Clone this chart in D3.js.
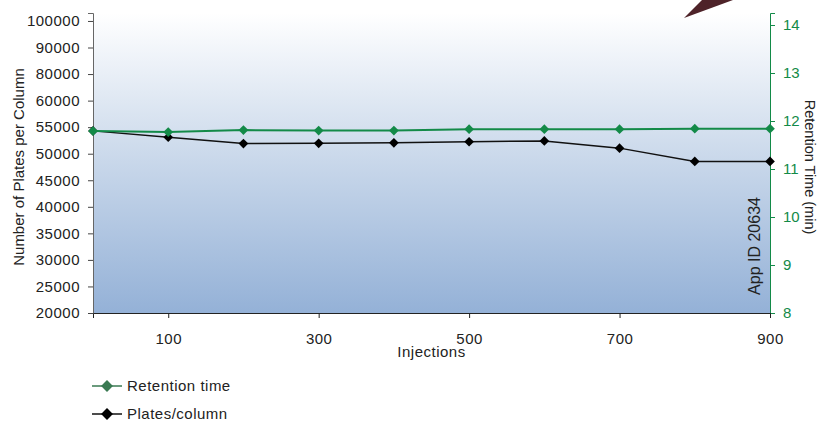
<!DOCTYPE html>
<html>
<head>
<meta charset="utf-8">
<script src="https://cdn.jsdelivr.net/npm/d3@7"></script>
<style>
  body { margin: 0; background: #fff; }
  text { font-family: "Liberation Sans", Arial, sans-serif; }
</style>
</head>
<body>
<svg id="chart"></svg>
<script>
const injections = [0, 100, 200, 300, 400, 500, 600, 700, 800, 900];
const plates = [54300, 53100, 51900, 51950, 52050, 52250, 52400, 51050, 48550, 48550];
const retention = [11.79, 11.77, 11.81, 11.80, 11.80, 11.83, 11.83, 11.83, 11.84, 11.84];

const xTicks = [100, 300, 500, 700, 900];
// left axis ticks sit every 5000 but the top three carry odd labels
const leftTickValues = [20000, 25000, 30000, 35000, 40000, 45000, 50000, 55000, 60000, 65000, 70000, 75000];
const leftTickLabels = ["20000", "25000", "30000", "35000", "40000", "45000", "50000", "55000", "60000", "80000", "90000", "100000"];
const rightTicks = [8, 9, 10, 11, 12, 13, 14];

const width = 822, height = 426;
const m = { left: 93, right: 770, top: 13, bottom: 313 };

const svg = d3.select("#chart").attr("width", width).attr("height", height);

const x = d3.scaleLinear().domain([0, 900]).range([m.left, m.right]);
const yL = d3.scaleLinear().domain([20000, 76500]).range([m.bottom, m.top]);
const yR = d3.scaleLinear().domain([8, 14.25]).range([m.bottom, m.top]);

// background gradient
const grad = svg.append("defs").append("linearGradient")
  .attr("id", "bg").attr("x1", 0).attr("y1", 0).attr("x2", 0).attr("y2", 1);
grad.append("stop").attr("offset", "0%").attr("stop-color", "#ffffff");
grad.append("stop").attr("offset", "50%").attr("stop-color", "#c8d7ea");
grad.append("stop").attr("offset", "100%").attr("stop-color", "#94b1d7");

svg.append("rect")
  .attr("x", m.left).attr("y", m.top)
  .attr("width", m.right - m.left).attr("height", m.bottom - m.top)
  .attr("fill", "url(#bg)");

// decorative arrow at the top
svg.append("polygon")
  .attr("points", "684,18 702,0 733,0")
  .attr("fill", "#4e2329");

const fs = 15, ls = "0.5px";

// left axis
const leftAxis = svg.append("g")
  .attr("transform", `translate(${m.left},0)`)
  .call(d3.axisLeft(yL).tickValues(leftTickValues)
    .tickFormat((d, i) => leftTickLabels[i]).tickSize(5).tickPadding(8));
leftAxis.select(".domain").attr("stroke", "#666");
leftAxis.selectAll(".tick line").attr("stroke", "#444");
leftAxis.selectAll("text").attr("font-size", fs).attr("letter-spacing", ls).attr("fill", "#222");

// right axis
const green = "#138a48";
const rightAxis = svg.append("g")
  .attr("transform", `translate(${m.right},0)`)
  .call(d3.axisRight(yR).tickValues(rightTicks).tickFormat(d3.format("d")).tickSize(5).tickPadding(8));
rightAxis.select(".domain").attr("stroke", green);
rightAxis.selectAll(".tick line").attr("stroke", green);
rightAxis.selectAll("text").attr("font-size", 15).attr("fill", green);

// bottom axis
const bottomAxis = svg.append("g")
  .attr("transform", `translate(0,${m.bottom})`)
  .call(d3.axisBottom(x).tickValues(xTicks).tickSize(5).tickPadding(15));
bottomAxis.select(".domain").attr("stroke", "#222");
bottomAxis.selectAll(".tick line").attr("stroke", "#222");
bottomAxis.selectAll("text").attr("font-size", fs).attr("letter-spacing", ls).attr("fill", "#222");

// axis titles
svg.append("text")
  .attr("transform", `translate(24,${(m.top + m.bottom) / 2 + 4}) rotate(-90)`)
  .attr("text-anchor", "middle").attr("font-size", fs).attr("fill", "#222")
  .text("Number of Plates per Column");

svg.append("text")
  .attr("transform", `translate(805,${(m.top + m.bottom) / 2 + 4}) rotate(90)`)
  .attr("text-anchor", "middle").attr("font-size", 14.5).attr("fill", "#222")
  .text("Retention Time (min)");

svg.append("text")
  .attr("x", (m.left + m.right) / 2).attr("y", 357)
  .attr("text-anchor", "middle").attr("font-size", fs).attr("letter-spacing", ls).attr("fill", "#222")
  .text("Injections");

svg.append("text")
  .attr("transform", `translate(760,246) rotate(-90)`)
  .attr("text-anchor", "middle").attr("font-size", 16).attr("fill", "#222")
  .text("App ID 20634");

// series
const diamond = d3.symbol().type(d3.symbolDiamond2).size(60);

const plateLine = d3.line().x((d, i) => x(injections[i])).y(d => yL(d));
svg.append("path").datum(plates)
  .attr("d", plateLine).attr("fill", "none")
  .attr("stroke", "#111").attr("stroke-width", 1.5);
svg.append("g").selectAll("path").data(plates).join("path")
  .attr("d", diamond)
  .attr("transform", (d, i) => `translate(${x(injections[i])},${yL(d)})`)
  .attr("fill", "#000");

const rtLine = d3.line().x((d, i) => x(injections[i])).y(d => yR(d));
svg.append("path").datum(retention)
  .attr("d", rtLine).attr("fill", "none")
  .attr("stroke", green).attr("stroke-width", 2);
svg.append("g").selectAll("path").data(retention).join("path")
  .attr("d", diamond)
  .attr("transform", (d, i) => `translate(${x(injections[i])},${yR(d)})`)
  .attr("fill", green);

// legend
const legend = [
  { label: "Retention time", line: "#3a7a52", mark: "#3a7a52", y: 386 },
  { label: "Plates/column", line: "#111", mark: "#000", y: 414 }
];
const lg = svg.append("g").selectAll("g").data(legend).join("g")
  .attr("transform", d => `translate(0,${d.y})`);
lg.append("line")
  .attr("x1", 92).attr("x2", 122)
  .attr("stroke", d => d.line).attr("stroke-width", 1.5);
lg.append("path")
  .attr("d", d3.symbol().type(d3.symbolDiamond2).size(90))
  .attr("transform", "translate(107,0)")
  .attr("fill", d => d.mark);
lg.append("text")
  .attr("x", 127).attr("dy", "0.35em")
  .attr("font-size", fs).attr("letter-spacing", ls).attr("fill", "#222")
  .text(d => d.label);
</script>
</body>
</html>
